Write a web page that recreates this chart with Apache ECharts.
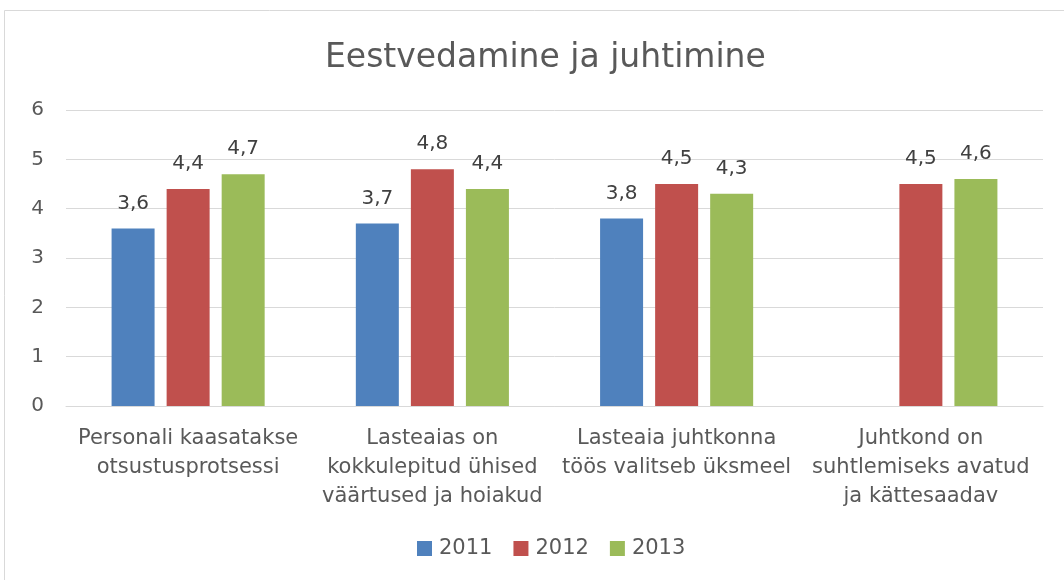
<!DOCTYPE html>
<html style="height: 100%">
<head>
    <meta charset="utf-8">
    <script src="https://cdn.jsdelivr.net/npm/echarts@6/dist/echarts.min.js"></script>
</head>
<body style="height: 100%; margin: 0; background: #fff">
    <div id="container" style="width: 1064px; height: 580px"></div>
    <script type="text/javascript">
        // andmed
        const categories = [
            "Personali kaasatakse\notsustusprotsessi",
            "Lasteaias on\nkokkulepitud ühised\nväärtused ja hoiakud",
            "Lasteaia juhtkonna\ntöös valitseb üksmeel",
            "Juhtkond on\nsuhtlemiseks avatud\nja kättesaadav"
        ];
        const years = ["2011", "2012", "2013"];
        const values2011 = [3.6, 3.7, 3.8, null];
        const values2012 = [4.4, 4.8, 4.5, 4.5];
        const values2013 = [4.7, 4.4, 4.3, 4.6];
        const yTicks = [0, 1, 2, 3, 4, 5, 6];

        const colors = ["#4f81bd", "#c0504d", "#9bbb59"];
        const textColor = "#595959";
        const font = "DejaVu Sans";

        let dom = document.getElementById('container');
        let myChart = echarts.init(dom, null, { renderer: 'canvas' });

        const makeSeries = (name, data, color) => ({
            name: name,
            type: 'bar',
            data: data,
            barWidth: 43,
            barGap: '28%',
            itemStyle: { color: color },
            label: {
                show: true,
                position: 'top',
                distance: 15,
                color: '#404040',
                fontFamily: font,
                fontSize: 20,
                formatter: (p) => p.value == null ? '' : String(p.value).replace('.', ',')
            }
        });

        let option = {
            animation: false,
            backgroundColor: '#fff',
            graphic: [{
                type: 'rect',
                shape: { x: 4.5, y: 10.5, width: 1070, height: 580 },
                style: { fill: 'none', stroke: '#d9d9d9', lineWidth: 1 }
            }],
            title: {
                text: 'Eestvedamine ja juhtimine',
                left: 320,
                top: 37,
                textStyle: { fontFamily: font, fontSize: 33, fontWeight: 'normal', color: textColor }
            },
            legend: {
                bottom: 16,
                left: 412,
                itemWidth: 15,
                itemHeight: 15,
                itemGap: 21,
                icon: 'rect',
                textStyle: { fontFamily: font, fontSize: 21, color: textColor, padding: [0, 0, 0, 2] },
                data: years
            },
            grid: { left: 66, right: 21, top: 110, bottom: 174, containLabel: false },
            xAxis: {
                type: 'category',
                data: categories,
                axisLine: { lineStyle: { color: '#d9d9d9' } },
                axisTick: { show: false },
                axisLabel: {
                    interval: 0,
                    margin: 18,
                    color: textColor,
                    fontFamily: font,
                    fontSize: 21,
                    lineHeight: 29
                }
            },
            yAxis: {
                type: 'value',
                min: yTicks[0],
                max: yTicks[yTicks.length - 1],
                interval: 1,
                axisLine: { show: false },
                axisTick: { show: false },
                splitLine: { lineStyle: { color: '#d9d9d9' } },
                axisLabel: { color: textColor, fontFamily: font, fontSize: 20, margin: 22 }
            },
            series: [
                makeSeries(years[0], values2011, colors[0]),
                makeSeries(years[1], values2012, colors[1]),
                makeSeries(years[2], values2013, colors[2])
            ]
        };

        myChart.setOption(option);
    </script>
</body>
</html>
